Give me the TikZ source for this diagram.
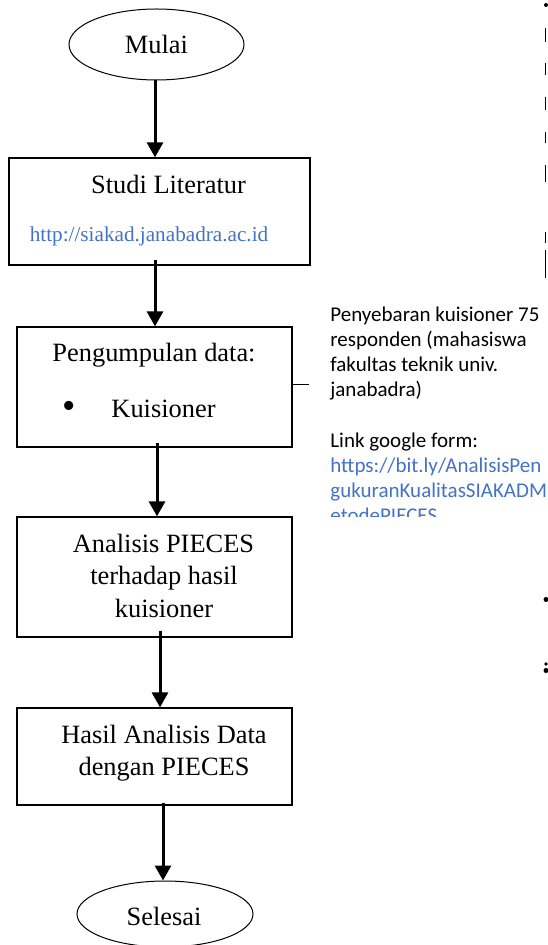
\documentclass[tikz,border=0pt]{standalone}
\usepackage{fontspec}
\setmainfont{Liberation Serif}
\newfontfamily\calfont{Carlito}
\usetikzlibrary{arrows.meta,shapes.geometric,calc}
\definecolor{linkblue}{RGB}{68,114,196}
\begin{document}
\begin{tikzpicture}[x=0.5pt,y=-0.5pt,
  boxnode/.style={draw, line width=0.65pt, rectangle, inner sep=0pt},
  ovalnode/.style={draw, line width=0.5pt, ellipse, inner sep=0pt},
  arr/.style={line width=1.5pt, -{Triangle[width=8pt,length=7.5pt]}},
  txt/.style={anchor=base, inner sep=0pt, font=\fontsize{13.2}{16}\selectfont},
  urltxt/.style={anchor=base, inner sep=0pt, text=linkblue, font=\fontsize{10.6}{13}\selectfont},
  cmt/.style={anchor=base west, inner sep=0pt, font=\calfont\fontsize{10.5}{12.6}\selectfont},
  cmtlink/.style={cmt, text=linkblue},
  edgemark/.style={line width=0.6pt}
]
\useasboundingbox (0,0) rectangle (547,945);

% shapes
\node[ovalnode, minimum width=87.5pt, minimum height=35.5pt] (mulai) at (156.5,44.5) {};
\node[boxnode, minimum width=150.5pt, minimum height=53.5pt] (studi) at (159.5,211.5) {};
\node[boxnode, minimum width=137.5pt, minimum height=60pt] (peng) at (154.5,387) {};
\node[boxnode, minimum width=137.5pt, minimum height=60pt] (ana) at (154.5,577) {};
\node[boxnode, minimum width=137.5pt, minimum height=48.5pt] (hasil) at (154.5,756.5) {};
\node[ovalnode, minimum width=88pt, minimum height=33pt] (selesai) at (165,914) {};

% texts
\node[txt] (tmulai) at (156.5,54) {Mulai};
\node[txt] (tstudi) at (168.5,194) {Studi Literatur};
\node[urltxt] (turl) at (149,242) {http://siakad.janabadra.ac.id};
\node[txt] (tpeng) at (154,362) {Pengumpulan data:};
\node[inner sep=0pt, anchor=center, font=\fontsize{19}{20}\selectfont] (tbullet) at (69,410) {•};
\node[txt] (tkuis) at (163.5,417) {Kuisioner};
\node[txt] (tana1) at (163.5,552) {Analisis PIECES};
\node[txt] (tana2) at (164,584.5) {terhadap hasil};
\node[txt] (tana3) at (164,617) {kuisioner};
\node[txt] (thas1) at (164,743) {Hasil Analisis Data};
\node[txt] (thas2) at (164,775) {dengan PIECES};
\node[txt] (tsel) at (164,925) {Selesai};

% arrows
\draw[arr] ([xshift=-0.75pt]mulai.south) -- ([xshift=-2.25pt]studi.north);
\draw[arr] ([xshift=-2.25pt,yshift=3pt]studi.south) -- ([xshift=0.25pt]peng.north);
\draw[arr] ([xshift=1.25pt,yshift=2.5pt]peng.south) -- ([xshift=1.25pt]ana.north);
\draw[arr] ([xshift=2.75pt,yshift=3.5pt]ana.south) -- ([xshift=2.75pt]hasil.north);
\draw[arr] ([xshift=4.25pt,yshift=1.5pt]hasil.south) -- ([xshift=-1pt]selesai.north);

% comment
\coordinate (cm) at (309,385);
\draw[line width=0.5pt] (peng.east |- cm) -- (cm);
\begin{scope}
\clip (300,290) rectangle (547,516);
\node[cmt] (c1) at (330,322) {Penyebaran kuisioner 75};
\node[cmt] (c2) at (330,347) {responden (mahasiswa};
\node[cmt] (c3) at (330,372) {fakultas teknik univ.};
\node[cmt] (c4) at (330,397) {janabadra)};
\node[cmt] (c5) at (330,447) {Link google form:};
\node[cmtlink] (c6) at (330,472) {https://bit.ly/AnalisisPen};
\node[cmtlink] (c7) at (330,497) {gukuranKualitasSIAKADM};
\node[cmtlink] (c8) at (330,522) {etodePIECES};
\end{scope}

% clipped fragments at right edge
\fill (546,5) circle (2);
\foreach \a/\b in {28/42,63/75,97/110,132/143,165/182,232/243,250/278}
  \draw[edgemark] (545.5,\a) -- (545.5,\b);
\fill (546,599.5) circle (2.5);
\fill (546,664) circle (1.8);
\fill (546,670.5) circle (2.5);
\end{tikzpicture}
\end{document}
